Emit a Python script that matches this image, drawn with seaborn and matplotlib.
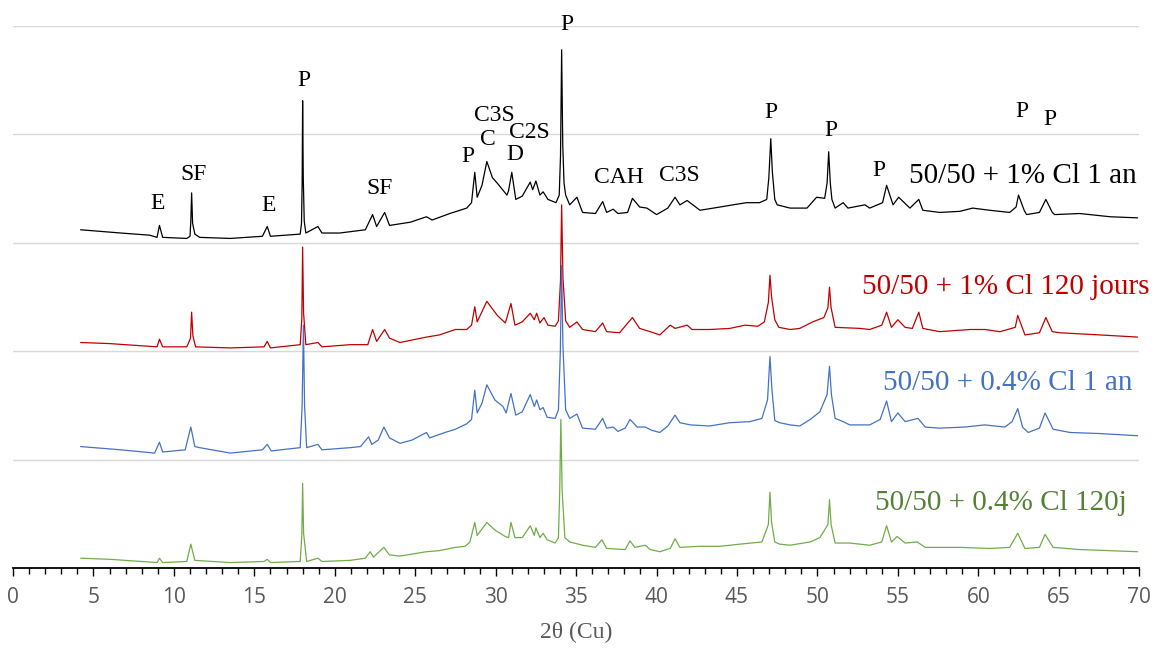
import pandas as pd
import matplotlib.pyplot as plt
from matplotlib.ticker import MultipleLocator
import seaborn as sns

# ------------------------------------------------------------
# XRD patterns, 2theta (deg) vs intensity (a.u., stacked offsets)
# values
# ------------------------------------------------------------
tt_1pc_1an = [4.2, 6.7, 8.5, 8.95, 9.1, 9.3, 10.8, 11.0, 11.05, 11.1, 11.16, 11.3, 11.6, 13.5,
              15.5, 15.8, 16.0, 17.85, 17.93, 17.97, 18.0, 18.04, 18.1, 18.2, 18.95, 19.2, 20.3,
              21.9, 22.35, 22.6, 23.1, 23.4, 24.7, 25.7, 26.05, 27.15, 28.2, 28.5, 28.7, 28.85,
              29.15, 29.45, 29.8, 30.1, 30.7, 30.8, 31.0, 31.25, 31.65, 32.15, 32.3, 32.5, 32.75,
              32.95, 33.25, 33.75, 33.95, 34.03, 34.1, 34.17, 34.25, 34.35, 34.6, 35.05, 35.4,
              36.2, 36.65, 36.9, 37.3, 37.6, 38.2, 38.5, 38.95, 39.4, 40.0, 40.7, 41.15, 41.45,
              41.9, 42.7, 43.95, 44.75, 45.6, 46.4, 46.85, 46.98, 47.1, 47.2, 47.35, 47.5, 48.3,
              49.35, 49.95, 50.45, 50.6, 50.7, 50.8, 50.9, 51.1, 51.6, 51.9, 52.95, 53.25, 54.05,
              54.3, 54.7, 55.05, 55.75, 56.3, 56.55, 57.6, 58.85, 59.65, 60.7, 61.95, 62.35, 62.5,
              62.85, 63.0, 63.8, 64.2, 64.6, 64.75, 66.3, 68.2, 69.9]
i_1pc_1an = [312, 309, 307, 305, 316, 305, 304, 306, 320, 346, 318, 308, 305, 304,
             306, 315, 306, 308, 318, 355, 431, 360, 320, 309, 315, 309, 309,
             312, 326, 315, 328, 316, 319, 324, 321, 327, 332, 337, 365, 342,
             353, 375, 360, 355, 344, 348, 365, 340, 343, 356, 349, 357, 344,
             347, 340, 337, 344, 380, 478, 390, 355, 344, 335, 342, 328,
             327, 338, 328, 331, 327, 328, 341, 333, 332, 326, 332, 342, 335,
             339, 330, 333, 335, 337, 337, 340, 360, 396, 365, 340, 335, 332,
             332, 342, 341, 355, 384, 355, 340, 332, 337, 332, 335, 332, 337,
             353, 335, 342, 332, 340, 330, 328, 329, 332, 330, 328, 333, 344,
             330, 326, 328, 340, 328, 326, 327, 324, 323]

tt_1pc_120j = [4.2, 6.0, 8.95, 9.1, 9.3, 10.8, 11.03, 11.1, 11.18, 11.35, 13.5, 15.6, 15.8, 16.0,
               17.85, 17.95, 18.0, 18.06, 18.2, 18.95, 19.2, 20.95, 22.05, 22.35, 22.6, 23.1, 23.4,
               24.05, 25.7, 26.5, 27.5, 28.2, 28.5, 28.7, 28.85, 29.45, 30.1, 30.6, 30.95, 31.2,
               31.65, 32.15, 32.4, 32.55, 32.75, 33.0, 33.25, 33.7, 33.9, 34.03, 34.1, 34.18, 34.35,
               34.6, 35.05, 35.4, 36.2, 36.65, 36.9, 37.7, 38.5, 38.95, 39.6, 40.2, 40.85, 41.15,
               41.9, 42.2, 43.3, 44.55, 45.5, 46.3, 46.7, 46.95, 47.05, 47.15, 47.35, 47.6, 48.3,
               48.9, 49.7, 50.4, 50.65, 50.75, 50.85, 51.1, 52.65, 53.25, 54.0, 54.3, 54.6, 55.0,
               55.45, 55.9, 56.3, 56.55, 57.6, 59.5, 60.4, 61.35, 62.3, 62.45, 62.9, 63.8, 64.2,
               64.6, 65.05, 67.55, 69.9]
i_1pc_120j = [208, 207, 204, 211, 204, 204, 212, 236, 214, 204, 203, 204, 209, 203,
              206, 230, 296, 235, 206, 208, 204, 206, 206, 220, 209, 220, 212,
              208, 213, 215, 220, 220, 224, 241, 227, 246, 233, 226, 244, 224,
              227, 235, 229, 235, 226, 231, 224, 223, 228, 265, 335, 268, 228,
              222, 227, 220, 218, 226, 218, 217, 231, 221, 218, 215, 224, 221,
              224, 220, 220, 221, 224, 223, 227, 245, 270, 250, 229, 222, 220,
              221, 227, 231, 240, 259, 240, 222, 221, 220, 224, 236, 222, 229,
              222, 221, 236, 221, 218, 220, 220, 218, 222, 233, 215, 217, 231,
              218, 217, 215, 213]

tt_04pc_1an = [4.2, 6.7, 8.8, 9.1, 9.3, 10.7, 11.05, 11.3, 11.6, 13.5, 15.5, 15.8, 16.05, 17.85,
               17.97, 18.05, 18.12, 18.25, 18.95, 19.2, 20.95, 21.6, 22.1, 22.3, 22.7, 23.05, 23.4,
               24.05, 24.8, 25.7, 25.9, 26.85, 27.5, 28.2, 28.5, 28.7, 28.85, 29.15, 29.45, 29.95,
               30.45, 30.65, 30.95, 31.25, 31.65, 32.15, 32.4, 32.55, 32.75, 32.95, 33.2, 33.7,
               33.9, 34.02, 34.1, 34.18, 34.35, 34.6, 35.05, 35.4, 36.2, 36.65, 36.9, 37.3, 37.6,
               38.05, 38.35, 38.8, 39.3, 39.7, 40.2, 40.7, 41.15, 41.45, 42.1, 43.3, 44.55, 45.8,
               46.55, 46.9, 47.05, 47.17, 47.35, 47.65, 48.3, 48.9, 49.55, 50.15, 50.6, 50.75,
               50.87, 51.1, 51.6, 52.0, 53.25, 53.9, 54.3, 54.6, 55.0, 55.45, 56.25, 56.7, 57.6,
               59.15, 60.4, 61.65, 62.1, 62.45, 62.75, 63.1, 63.8, 64.15, 64.65, 65.7, 67.55, 69.9]
i_04pc_1an = [112, 109, 106, 116, 107, 109, 130, 112, 111, 106, 109, 114, 108, 111,
              150, 224, 150, 111, 114, 109, 111, 112, 121, 114, 118, 130, 120,
              115, 118, 125, 120, 125, 128, 133, 137, 164, 143, 152, 169, 155,
              149, 143, 161, 141, 144, 160, 149, 155, 146, 148, 139, 138,
              146, 200, 279, 205, 146, 138, 142, 129, 128, 138, 129, 130, 126,
              129, 137, 130, 130, 127, 125, 131, 141, 134, 132, 131, 134, 135,
              138, 155, 195, 165, 136, 134, 132, 131, 137, 144, 160, 186,
              160, 138, 135, 132, 132, 137, 154, 135, 143, 135, 138, 130, 129,
              130, 132, 130, 135, 147, 130, 125, 129, 143, 128, 125, 124, 122]

tt_04pc_120j = [4.2, 6.0, 8.95, 9.1, 9.3, 10.8, 11.05, 11.3, 13.5, 15.6, 15.8, 16.0, 17.85, 17.95,
                18.0, 18.06, 18.25, 18.95, 19.2, 20.95, 21.9, 22.2, 22.4, 23.05, 23.4, 24.05, 25.7,
                26.5, 27.5, 28.1, 28.4, 28.7, 28.85, 29.45, 29.95, 30.6, 30.8, 30.95, 31.2, 31.65,
                32.15, 32.4, 32.5, 32.75, 32.95, 33.2, 33.7, 33.9, 33.98, 34.05, 34.13, 34.3, 34.6,
                35.4, 36.2, 36.6, 36.9, 38.05, 38.35, 38.65, 39.3, 39.6, 40.2, 40.85, 41.15, 41.45,
                42.7, 43.95, 45.2, 46.55, 46.95, 47.05, 47.15, 47.35, 47.65, 48.3, 49.55, 50.15,
                50.65, 50.75, 50.85, 51.1, 52.0, 53.25, 54.0, 54.3, 54.6, 54.95, 55.45, 56.2, 56.7,
                58.85, 60.7, 61.95, 62.45, 62.9, 63.8, 64.15, 64.65, 66.3, 69.9]
i_04pc_120j = [9, 8, 5, 9, 5, 6, 22, 7, 5, 6, 8, 5, 6, 30,
               78, 32, 6, 9, 6, 7, 9, 15, 10, 19, 12, 11, 15,
               16, 19, 20, 24, 42, 30, 42, 35, 29, 28, 42, 28, 28,
               39, 30, 37, 28, 32, 26, 23, 28, 70, 137, 72, 28, 24,
               21, 19, 26, 18, 17, 25, 19, 21, 17, 15, 18, 27, 19,
               20, 20, 22, 24, 40, 70, 42, 24, 22, 21, 24, 28,
               40, 63, 40, 23, 23, 21, 24, 39, 24, 29, 23, 24, 19,
               19, 18, 19, 32, 18, 19, 31, 19, 17, 15]

samples = ['50/50 + 1% Cl 1 an', '50/50 + 1% Cl 120 jours',
           '50/50 + 0.4% Cl 1 an', '50/50 + 0.4% Cl 120j']
line_colors = ['#000000', '#C00000', '#4472C4', '#70AD47']
text_colors = ['#000000', '#C00000', '#4472C4', '#548235']
label_pos = [(62.8, 362), (61.7, 259), (61.8, 171), (61.4, 60)]

# phase labels over the top pattern
phase_text = ['E', 'SF', 'E', 'P', 'SF', 'P', 'C3S', 'C', 'C2S', 'D', 'P',
              'CAH', 'C3S', 'P', 'P', 'P', 'P', 'P']
phase_x = [9.0, 11.25, 15.9, 18.1, 22.8, 28.3, 29.9, 29.5, 32.1, 31.2, 34.4,
           37.65, 41.4, 47.1, 50.85, 53.8, 62.7, 64.45]
phase_y = [336, 363, 334, 450, 350, 380, 417, 395, 402, 381, 501,
           360, 362, 420, 404, 367, 421, 414]

sns.set_style('white')
plt.rcParams['font.family'] = ['Liberation Serif', 'DejaVu Serif']

fig = plt.figure(figsize=(11.55, 6.48), dpi=100)
ax = fig.add_axes([0.0113, 0.1235, 0.975, 0.8364])

patterns = [(tt_1pc_1an, i_1pc_1an), (tt_1pc_120j, i_1pc_120j),
            (tt_04pc_1an, i_04pc_1an), (tt_04pc_120j, i_04pc_120j)]
for (tt, inten), name, col in zip(patterns, samples, line_colors):
    df = pd.DataFrame({'two_theta': tt, 'intensity': inten})
    sns.lineplot(data=df, x='two_theta', y='intensity', color=col, lw=0.9,
                 sort=False, estimator=None, ax=ax)

for name, col, (lx, ly) in zip(samples, text_colors, label_pos):
    ax.text(lx, ly, name, color=col, fontsize=21, ha='center', va='center')

for t, x, y in zip(phase_text, phase_x, phase_y):
    ax.text(x, y, t, fontsize=17, ha='center', va='center', color='black')

ax.set_xlim(0, 70)
ax.set_ylim(0, 500)
ax.xaxis.set_major_locator(MultipleLocator(5))
ax.xaxis.set_minor_locator(MultipleLocator(1))
ax.yaxis.set_major_locator(MultipleLocator(100))
ax.set_yticklabels([])
ax.tick_params(axis='y', length=0)
ax.tick_params(axis='x', which='major', direction='out', length=6, width=1,
               color='black', labelsize=15, labelcolor='#595959', pad=8, bottom=True)
ax.tick_params(axis='x', which='minor', direction='out', length=4.5, width=1,
               color='black', bottom=True)
for lab in ax.get_xticklabels():
    lab.set_family(['Open Sans', 'DejaVu Sans'])

ax.grid(axis='y', color='#d9d9d9', lw=1)
ax.grid(axis='x', visible=False)
for s in ['top', 'right', 'left']:
    ax.spines[s].set_visible(False)
ax.spines['bottom'].set_color('black')
ax.spines['bottom'].set_linewidth(1.3)

ax.set_xlabel('2θ (Cu)', fontsize=17, color='#595959', labelpad=10)
ax.set_ylabel('')

plt.savefig('out.png', dpi=100)
